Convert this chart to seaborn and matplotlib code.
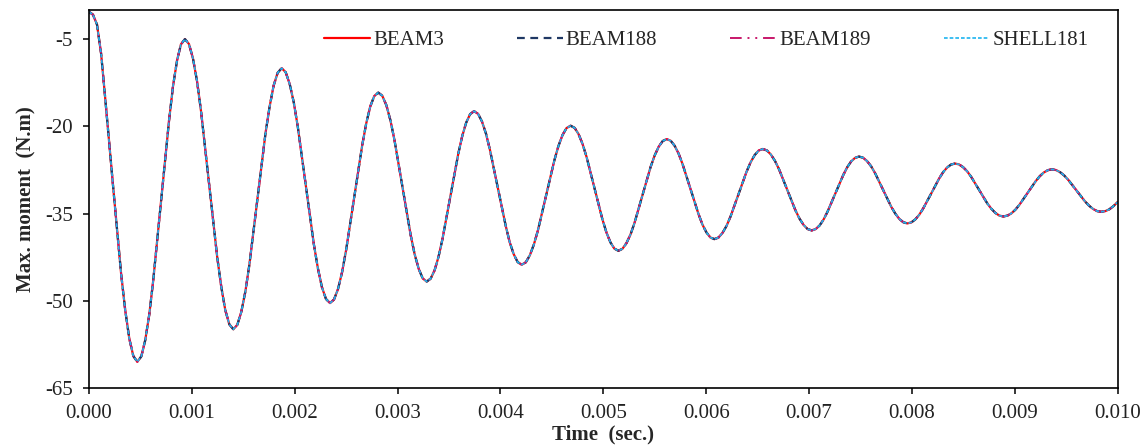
import numpy as np
import matplotlib
matplotlib.use("Agg")
import matplotlib.pyplot as plt
import seaborn as sns

# time (sec.) and max. moment (N.m)
# (all four element types lie on top of each other, so they share the values)
time_s = [
    0.000000, 0.000039, 0.000078, 0.000118, 0.000157, 0.000235, 0.000313, 0.000353, 0.000392, 0.000431,
    0.000470, 0.000509, 0.000547, 0.000586, 0.000624, 0.000702, 0.000779, 0.000817, 0.000856, 0.000894,
    0.000933, 0.000972, 0.001011, 0.001051, 0.001090, 0.001168, 0.001246, 0.001286, 0.001325, 0.001364,
    0.001403, 0.001442, 0.001481, 0.001521, 0.001560, 0.001638, 0.001716, 0.001756, 0.001795, 0.001834,
    0.001873, 0.001912, 0.001951, 0.001991, 0.002030, 0.002108, 0.002186, 0.002226, 0.002265, 0.002304,
    0.002343, 0.002382, 0.002421, 0.002460, 0.002499, 0.002578, 0.002656, 0.002695, 0.002734, 0.002773,
    0.002812, 0.002851, 0.002891, 0.002930, 0.002969, 0.003048, 0.003126, 0.003165, 0.003205, 0.003244,
    0.003283, 0.003321, 0.003360, 0.003398, 0.003436, 0.003513, 0.003590, 0.003628, 0.003666, 0.003705,
    0.003743, 0.003782, 0.003820, 0.003859, 0.003897, 0.003975, 0.004052, 0.004090, 0.004129, 0.004167,
    0.004206, 0.004246, 0.004285, 0.004325, 0.004365, 0.004444, 0.004523, 0.004563, 0.004603, 0.004642,
    0.004682, 0.004721, 0.004759, 0.004798, 0.004837, 0.004914, 0.004991, 0.005030, 0.005069, 0.005107,
    0.005146, 0.005185, 0.005224, 0.005264, 0.005303, 0.005381, 0.005459, 0.005499, 0.005538, 0.005577,
    0.005616, 0.005655, 0.005693, 0.005732, 0.005770, 0.005848, 0.005925, 0.005963, 0.006002, 0.006040,
    0.006079, 0.006118, 0.006157, 0.006197, 0.006236, 0.006314, 0.006392, 0.006432, 0.006471, 0.006510,
    0.006549, 0.006589, 0.006628, 0.006668, 0.006708, 0.006787, 0.006866, 0.006906, 0.006946, 0.006985,
    0.007025, 0.007063, 0.007102, 0.007140, 0.007178, 0.007255, 0.007332, 0.007370, 0.007408, 0.007447,
    0.007485, 0.007524, 0.007563, 0.007603, 0.007642, 0.007720, 0.007798, 0.007838, 0.007877, 0.007916,
    0.007955, 0.007994, 0.008032, 0.008071, 0.008109, 0.008187, 0.008264, 0.008302, 0.008341, 0.008379,
    0.008418, 0.008457, 0.008496, 0.008536, 0.008575, 0.008653, 0.008731, 0.008771, 0.008810, 0.008849,
    0.008888, 0.008927, 0.008967, 0.009006, 0.009045, 0.009124, 0.009203, 0.009242, 0.009281, 0.009321,
    0.009360, 0.009400, 0.009440, 0.009480, 0.009520, 0.009600, 0.009680, 0.009720, 0.009760, 0.009800,
    0.009840, 0.009880, 0.009920, 0.009960, 0.010000,
]
moment = [
    -0.3, -0.8, -2.5, -7.5, -15.0, -30.4, -45.45, -51.7, -56.5, -59.5,
    -60.5, -59.56, -56.78, -52.4, -46.6, -32.75, -18.9, -13.1, -8.7, -5.9,
    -5.0, -5.85, -8.34, -12.3, -17.5, -29.95, -42.4, -47.6, -51.6, -54.05,
    -54.9, -54.14, -51.9, -48.34, -43.7, -32.45, -21.2, -16.6, -13.0, -10.8,
    -10.0, -10.69, -12.71, -15.9, -20.1, -30.2, -40.3, -44.5, -47.7, -49.7,
    -50.4, -49.78, -47.97, -45.11, -41.35, -32.3, -23.25, -19.5, -16.6, -14.8,
    -14.2, -14.75, -16.38, -18.95, -22.3, -30.45, -38.6, -41.95, -44.5, -46.15,
    -46.7, -46.2, -44.74, -42.42, -39.4, -32.05, -24.7, -21.7, -19.4, -17.9,
    -17.4, -17.85, -19.17, -21.25, -24.0, -30.6, -37.2, -39.95, -42.0, -43.35,
    -43.8, -43.39, -42.2, -40.31, -37.82, -31.85, -25.9, -23.4, -21.5, -20.3,
    -19.9, -20.27, -21.34, -23.04, -25.28, -30.65, -36.0, -38.26, -39.96, -41.03,
    -41.4, -41.07, -40.11, -38.6, -36.6, -31.8, -27.0, -25.0, -23.5, -22.53,
    -22.2, -22.49, -23.35, -24.71, -26.5, -30.8, -35.1, -36.89, -38.25, -39.11,
    -39.4, -39.14, -38.36, -37.14, -35.52, -31.65, -27.8, -26.16, -24.94, -24.16,
    -23.9, -24.14, -24.84, -25.94, -27.4, -30.9, -34.4, -35.86, -36.96, -37.66,
    -37.9, -37.68, -37.05, -36.05, -34.72, -31.55, -28.37, -27.05, -26.05, -25.42,
    -25.2, -25.4, -25.97, -26.88, -28.08, -30.95, -33.83, -35.02, -35.93, -36.5,
    -36.7, -36.52, -36.01, -35.2, -34.12, -31.55, -28.97, -27.9, -27.09, -26.58,
    -26.4, -26.55, -27.01, -27.73, -28.68, -30.95, -33.23, -34.17, -34.89, -35.35,
    -35.5, -35.36, -34.96, -34.32, -33.47, -31.45, -29.42, -28.58, -27.94, -27.54,
    -27.4, -27.52, -27.89, -28.47, -29.23, -31.05, -32.88, -33.63, -34.21, -34.58,
    -34.7, -34.58, -34.25, -33.7, -33.0,
]

series_names = ["BEAM3", "BEAM188", "BEAM189", "SHELL181"]
series_colors = ["#FF0000", "#1F3864", "#C8176A", "#1CB4F0"]
series_styles = ["-", (0, (3.5, 2.5)), (0, (6, 3, 1, 3, 1, 3)), (0, (2.2, 1.2))]
series_widths = [1.6, 1.6, 1.4, 1.2]

x_ticks = [0.000, 0.001, 0.002, 0.003, 0.004, 0.005, 0.006, 0.007, 0.008, 0.009, 0.010]
y_ticks = [-65, -50, -35, -20, -5]

sns.set_style("white")
plt.rcParams["font.family"] = ["Liberation Serif", "DejaVu Serif"]
plt.rcParams["axes.unicode_minus"] = False

fig = plt.figure(figsize=(11.45, 4.47), dpi=100)
ax = fig.add_axes([0.0777, 0.132, 0.8985, 0.8456])

for name, col, ls, lw in zip(series_names, series_colors, series_styles, series_widths):
    sns.lineplot(x=time_s, y=moment, ax=ax, color=col, linestyle=ls,
                 linewidth=lw, label=name, estimator=None, sort=False)

ax.set_xlim(0, 0.010)
ax.set_ylim(-65, 0)
ax.set_xticks(x_ticks)
ax.set_xticklabels([f"{v:.3f}" for v in x_ticks])
ax.set_yticks(y_ticks)
ax.set_yticklabels([str(v) for v in y_ticks])
ax.tick_params(axis="both", direction="out", length=4.5, width=1.1,
               bottom=True, left=True, labelsize=15, color="black",
               labelcolor="#222222", pad=7)

for sp in ax.spines.values():
    sp.set_visible(True)
    sp.set_color("black")
    sp.set_linewidth(1.2)

ax.set_xlabel("Time  (sec.)", fontsize=15, fontweight="bold", labelpad=1)
ax.set_ylabel("Max. moment  (N.m)", fontsize=15, fontweight="bold", labelpad=6)

ax.legend(loc="center", bbox_to_anchor=(0.60, 0.92), ncol=4, frameon=False,
          fontsize=15, handlelength=2.2, handletextpad=0.15, columnspacing=3.5)

fig.savefig("out.png", dpi=100, facecolor="white")
